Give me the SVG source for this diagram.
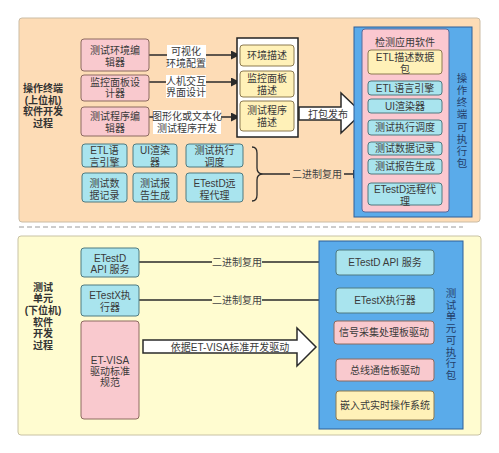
<svg xmlns="http://www.w3.org/2000/svg" width="499" height="453" viewBox="0 0 499 453">
<defs>
<style>
text{font-family:"Liberation Sans","Noto Sans CJK SC",sans-serif;font-size:10px;fill:#3a3a3a;text-anchor:middle;dominant-baseline:central}
.lbl{font-weight:bold;fill:#333}
.vt{fill:#24406a;font-size:10.5px}
.pink{fill:#f9c9ce;stroke:#8c6a60;stroke-width:1}
.cyan{fill:#a9e4ee;stroke:#4f7a80;stroke-width:1}
.yel{fill:#fff1b8;stroke:#8c7a50;stroke-width:1}
.blue{fill:#5aabea;stroke:#2f5f98;stroke-width:1}
.conn{stroke:#2a2a2a;stroke-width:1.5;fill:none}
.wbg{fill:#ffffff}
</style>
<marker id="ah" viewBox="0 0 10 10" refX="10" refY="5" markerWidth="6" markerHeight="6" orient="auto" markerUnits="strokeWidth">
<path d="M0,0 L10,5 L0,10 z" fill="#2a2a2a"/>
</marker>
</defs>

<g id="panels">
<rect x="19" y="18" width="461" height="204" rx="3" fill="#fddcb6" stroke="#cbbca4"/>
<line x1="19" y1="227" x2="463" y2="227" stroke="#9a9a9a" stroke-width="1" stroke-dasharray="5,3"/>
<rect x="18" y="236" width="463" height="199" rx="3" fill="#fffcd0" stroke="#c8c2a4"/>
</g>

<g id="top-label">
<text class="lbl" x="43" y="88">操作终端</text>
<text class="lbl" x="43" y="100">(上位机)</text>
<text class="lbl" x="43" y="111">软件开发</text>
<text class="lbl" x="43" y="123">过程</text>
</g>

<g id="connectors">
<line class="conn" x1="149" y1="55" x2="240" y2="55" marker-end="url(#ah)"/>
<line class="conn" x1="149" y1="82" x2="240" y2="82" marker-end="url(#ah)"/>
<line class="conn" x1="149" y1="117" x2="240" y2="117" marker-end="url(#ah)"/>
<rect class="wbg" x="167" y="45" width="39" height="23"/>
<text x="186" y="51">可视化</text>
<text x="186" y="63">环境配置</text>
<rect class="wbg" x="166" y="75" width="40" height="23"/>
<text x="186" y="81">人机交互</text>
<text x="186" y="92">界面设计</text>
<rect class="wbg" x="153" y="110" width="68" height="24"/>
<text x="187" y="116">图形化或文本化</text>
<text x="187" y="128">测试程序开发</text>

<path d="M252,147 Q257,147 257,153 L257,168 Q257,174 263,174 Q257,174 257,180 L257,195 Q257,201 252,201" fill="none" stroke="#2a2a2a" stroke-width="1.3"/>
<line class="conn" x1="263" y1="174" x2="362" y2="174" marker-end="url(#ah)"/>
<rect x="290" y="167" width="54" height="14" fill="#fddcb6"/>
<text x="317" y="174" style="fill:#444">二进制复用</text>

<polygon points="299,107 341,107 341,93 362,113 341,133 341,120 299,120" fill="#ffffff" stroke="#2a2a2a" stroke-width="1.5"/>
<text x="328" y="114">打包发布</text>

<line class="conn" x1="139" y1="262" x2="336" y2="262" marker-end="url(#ah)"/>
<line class="conn" x1="139" y1="300" x2="336" y2="300" marker-end="url(#ah)"/>
<rect x="212" y="255" width="50" height="14" fill="#fffcd0"/>
<text x="237" y="262" style="fill:#444">二进制复用</text>
<rect x="212" y="293" width="50" height="14" fill="#fffcd0"/>
<text x="237" y="300" style="fill:#444">二进制复用</text>

<polygon points="143,340 297,340 297,328 316,347 297,366 297,353 143,353" fill="#ffffff" stroke="#2a2a2a" stroke-width="1.5"/>
<text x="230" y="347">依据ET-VISA标准开发驱动</text>

<path d="M335,329 Q330,329 330,335 L330,341 Q330,347 320,347 Q330,347 330,353 L330,366 Q330,372 335,372" fill="none" stroke="#1d3a66" stroke-width="1.5"/>
</g>

<g id="editors">
<g id="n-env-editor"><rect class="pink" x="81" y="39" width="68" height="32" rx="3"/><text x="115" y="50">测试环境编</text><text x="115" y="62">辑器</text></g>
<g id="n-panel-designer"><rect class="pink" x="81" y="75" width="68" height="26" rx="3"/><text x="115" y="82">监控面板设</text><text x="115" y="93">计器</text></g>
<g id="n-prog-editor"><rect class="pink" x="81" y="107" width="68" height="29" rx="3"/><text x="115" y="116">测试程序编</text><text x="115" y="128">辑器</text></g>
</g>

<g id="descriptions">
<rect x="237" y="38" width="61" height="99" fill="#ffffff" stroke="#222" stroke-width="1.5"/>
<g id="n-env-desc"><rect class="yel" x="240" y="45" width="54" height="21" rx="3"/><text x="267" y="55.5">环境描述</text></g>
<g id="n-panel-desc"><rect class="yel" x="240" y="71" width="54" height="26" rx="3"/><text x="267" y="78">监控面板</text><text x="267" y="90">描述</text></g>
<g id="n-prog-desc"><rect class="yel" x="240" y="101" width="54" height="30" rx="3"/><text x="267" y="110">测试程序</text><text x="267" y="122">描述</text></g>
</g>

<g id="top-libs">
<g id="n-etl1"><rect class="cyan" x="82" y="144" width="45" height="23" rx="3"/><text x="104.5" y="150">ETL语</text><text x="104.5" y="162">言引擎</text></g>
<g id="n-ui1"><rect class="cyan" x="133" y="144" width="44" height="23" rx="3"/><text x="155" y="150">UI渲染</text><text x="155" y="162">器</text></g>
<g id="n-sched1"><rect class="cyan" x="186" y="144" width="57" height="23" rx="3"/><text x="214.5" y="150">测试执行</text><text x="214.5" y="162">调度</text></g>
<g id="n-rec1"><rect class="cyan" x="82" y="173" width="45" height="29" rx="3"/><text x="104.5" y="183">测试数</text><text x="104.5" y="195">据记录</text></g>
<g id="n-rep1"><rect class="cyan" x="133" y="173" width="44" height="29" rx="3"/><text x="155" y="183">测试报</text><text x="155" y="195">告生成</text></g>
<g id="n-agent1"><rect class="cyan" x="186" y="173" width="57" height="29" rx="3"/><text x="214.5" y="183">ETestD远</text><text x="214.5" y="195">程代理</text></g>
</g>

<g id="n-terminal-pkg">
<rect class="blue" x="354" y="27" width="118" height="190"/>
<rect x="362" y="29" width="87" height="183" rx="3" fill="#fbc8d0" stroke="#5a6a9a" stroke-width="1"/>
<text x="405" y="42">检测应用软件</text>
<rect class="yel" x="368" y="50" width="74" height="24" rx="3"/><text x="405" y="57">ETL描述数据</text><text x="405" y="69">包</text>
<rect class="cyan" x="368" y="81" width="74" height="14" rx="3"/><text x="405" y="88">ETL语言引擎</text>
<rect class="cyan" x="368" y="99" width="74" height="14" rx="3"/><text x="405" y="106">UI渲染器</text>
<rect class="cyan" x="368" y="120" width="74" height="15" rx="3"/><text x="405" y="127.5">测试执行调度</text>
<rect class="cyan" x="368" y="142" width="74" height="13" rx="3"/><text x="405" y="148.5">测试数据记录</text>
<rect class="cyan" x="368" y="159" width="74" height="15" rx="3"/><text x="405" y="166.5">测试报告生成</text>
<rect class="cyan" x="368" y="183" width="74" height="22" rx="3"/><text x="405" y="189">ETestD远程代</text><text x="405" y="201">理</text>
<text class="vt" x="462" y="78">操</text>
<text class="vt" x="462" y="90">作</text>
<text class="vt" x="462" y="102">终</text>
<text class="vt" x="462" y="114">端</text>
<text class="vt" x="462" y="127">可</text>
<text class="vt" x="462" y="139">执</text>
<text class="vt" x="462" y="151">行</text>
<text class="vt" x="462" y="163">包</text>
</g>

<g id="bottom-label">
<text class="lbl" x="43" y="287">测试</text>
<text class="lbl" x="43" y="298">单元</text>
<text class="lbl" x="43" y="310">(下位机)</text>
<text class="lbl" x="43" y="322">软件</text>
<text class="lbl" x="43" y="333">开发</text>
<text class="lbl" x="43" y="345">过程</text>
</g>

<g id="bottom-sources">
<g id="n-api-src"><rect class="cyan" x="81" y="248" width="58" height="29" rx="3"/><text x="110" y="258">ETestD</text><text x="110" y="269">API 服务</text></g>
<g id="n-exec-src"><rect class="cyan" x="81" y="285" width="58" height="31" rx="3"/><text x="110" y="295">ETestX执</text><text x="110" y="307">行器</text></g>
<g id="n-visa"><rect class="pink" x="81" y="321" width="58" height="98" rx="3"/><text x="110" y="360">ET-VISA</text><text x="110" y="371">驱动标准</text><text x="110" y="382">规范</text></g>
</g>

<g id="n-unit-pkg">
<rect class="blue" x="319" y="241" width="144" height="188"/>
<rect class="cyan" x="336" y="250" width="98" height="25" rx="3"/><text x="385" y="262.5">ETestD API 服务</text>
<rect class="cyan" x="336" y="288" width="98" height="25" rx="3"/><text x="385" y="300.5">ETestX执行器</text>
<rect class="pink" x="334" y="321" width="100" height="23" rx="3"/><text x="384" y="332.5">信号采集处理板驱动</text>
<rect class="pink" x="336" y="359" width="98" height="22" rx="3"/><text x="385" y="370">总线通信板驱动</text>
<rect class="yel" x="336" y="391" width="98" height="29" rx="3"/><text x="385" y="405.5">嵌入式实时操作系统</text>
<text class="vt" x="451" y="293">测</text>
<text class="vt" x="451" y="305">试</text>
<text class="vt" x="451" y="316">单</text>
<text class="vt" x="451" y="328">元</text>
<text class="vt" x="451" y="340">可</text>
<text class="vt" x="451" y="352">执</text>
<text class="vt" x="451" y="363">行</text>
<text class="vt" x="451" y="375">包</text>
</g>
</svg>
